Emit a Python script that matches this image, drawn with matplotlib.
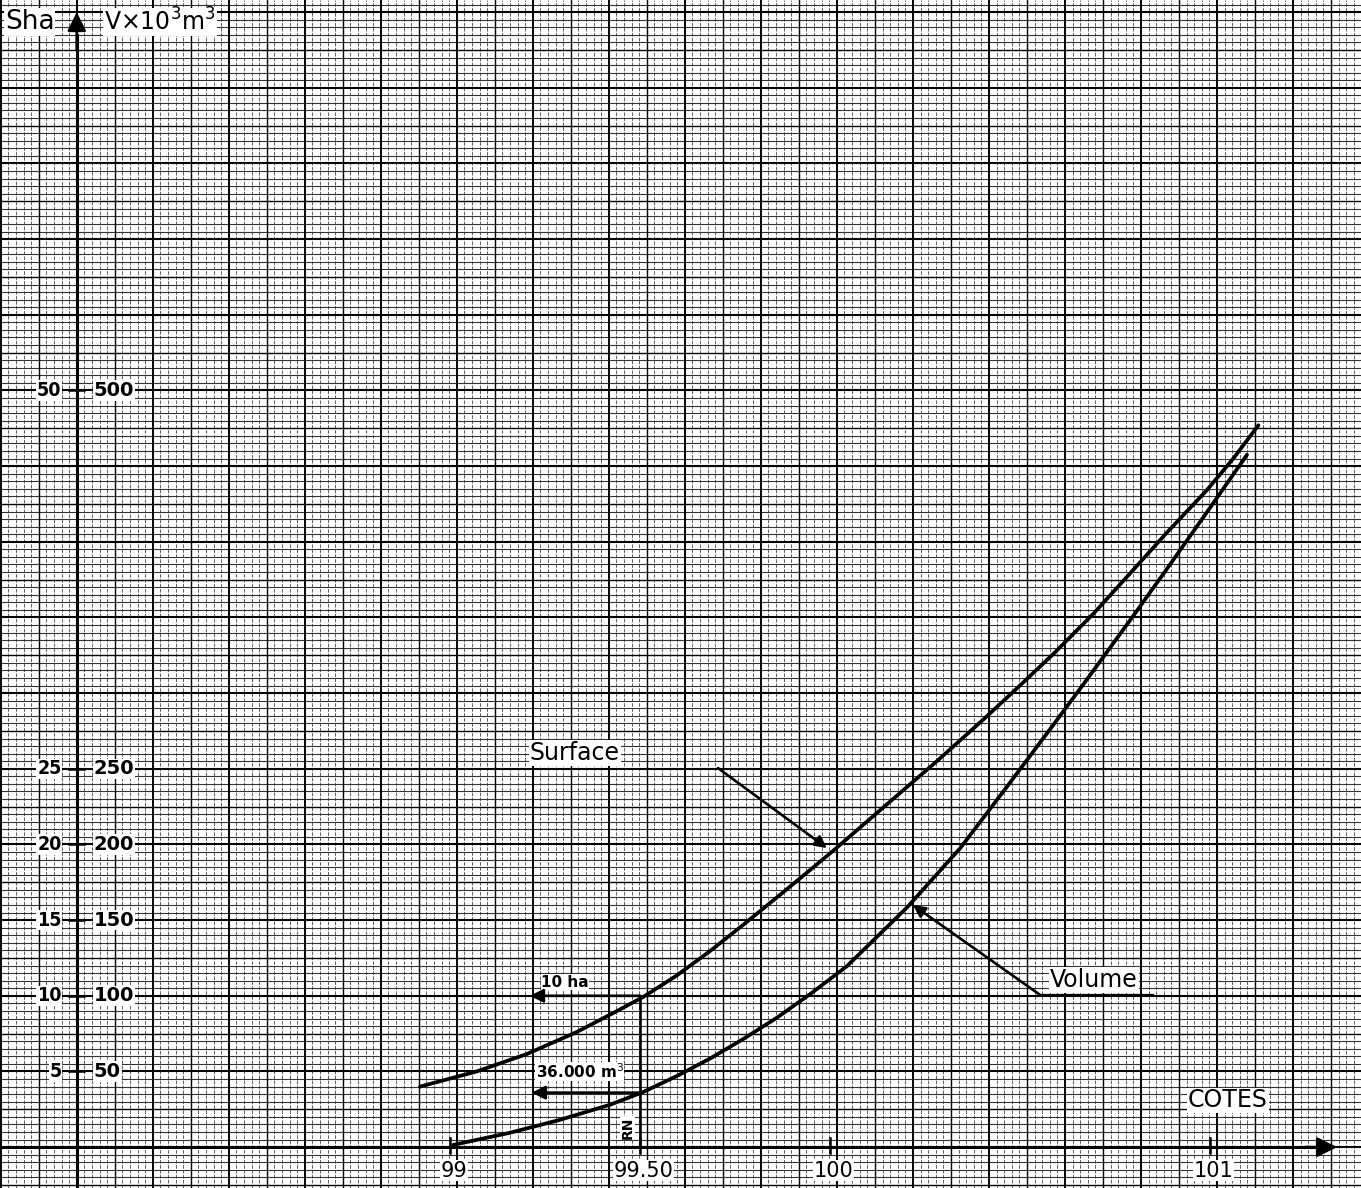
import numpy as np
import matplotlib
matplotlib.use("Agg")
import matplotlib.pyplot as plt

# ---- data ----
surface_cote = [98.921, 99.070, 99.202, 99.333, 99.421, 99.509, 99.597, 99.684, 99.772,
                99.860, 99.947, 100.009, 100.161, 100.281, 100.403, 100.491, 100.588,
                100.693, 100.789, 100.886, 100.991, 101.061, 101.127]
surface_ha = [4.0, 5.0, 6.15, 7.6, 8.75, 9.93, 11.35, 12.95, 14.7,
              16.5, 18.3, 19.6, 22.9, 25.5, 28.25, 30.3, 32.6,
              35.25, 37.9, 40.6, 43.4, 45.5, 47.7]

volume_cote = [99.009, 99.158, 99.289, 99.421, 99.509, 99.597, 99.684, 99.772, 99.860,
               99.947, 100.044, 100.203, 100.342, 100.465, 100.588, 100.684, 100.789,
               100.886, 100.982, 101.097]
volume_k_m3 = [1.5, 9.5, 18.0, 28.0, 36.5, 47.0, 58.5, 71.5, 85.5,
               101.0, 119.5, 158.5, 197.4, 238.0, 279.2, 311.8, 348.0,
               382.0, 416.1, 457.5]

x_ticks = [99, 99.5, 100, 101]
x_tick_labels = ["99", "99.50", "100", "101"]
y_ticks_ha = [5, 10, 15, 20, 25, 50]
y_tick_labels_ha = ["5", "10", "15", "20", "25", "50"]
y_tick_labels_v = ["50", "100", "150", "200", "250", "500"]

mark_cote = 99.5
mark_surface = 10
mark_volume = 36

XMIN, XMAX = 97.816, 101.397
YMIN, YMAX = -2.7, 75.8
Y_AXIS_X = 98.018

fig = plt.figure(figsize=(13.61, 11.88), dpi=100)
fig.patch.set_facecolor("white")
ax = fig.add_axes([0, 0, 1, 1])
ax.set_xlim(XMIN, XMAX)
ax.set_ylim(YMIN, YMAX)
ax.axis("off")
ax2 = ax.twinx()
ax2.set_ylim(YMIN * 10, YMAX * 10)
ax2.axis("off")

# ---- graph paper (aligned on the vertical axis) ----
k0 = int(np.floor((XMIN - Y_AXIS_X) / 0.02))
k1 = int(np.ceil((XMAX - Y_AXIS_X) / 0.02))
for k in range(k0, k1 + 1):
    x = Y_AXIS_X + k * 0.02
    if k % 10 == 0:
        ax.axvline(x, color="black", lw=1.4, zorder=1)
    elif k % 5 == 0:
        ax.axvline(x, color="black", lw=1.0, zorder=1)
    else:
        ax.axvline(x, color="#555555", lw=0.65, ls=(0, (4, 1.5)), zorder=0.5)
for j in range(int(np.ceil(YMIN / 0.5)), int(np.floor(YMAX / 0.5)) + 1):
    y = j * 0.5
    if j % 10 == 0:
        ax.axhline(y, color="black", lw=1.5, zorder=1)
    elif j % 5 == 0:
        ax.axhline(y, color="black", lw=1.0, zorder=1)
    else:
        ax.axhline(y, color="#333333", lw=0.8, zorder=0.5)

# ---- axes with arrows ----
ax.plot([XMIN, 101.30], [0, 0], color="black", lw=2.2, zorder=5)
ax.annotate("", xy=(101.334, 0), xytext=(101.25, 0),
            arrowprops=dict(arrowstyle="-|>", lw=2.0, color="black", mutation_scale=30,
                            shrinkA=0, shrinkB=0), zorder=5)
ax.plot([Y_AXIS_X, Y_AXIS_X], [YMIN, 73.5], color="black", lw=2.2, zorder=5)
ax.annotate("", xy=(Y_AXIS_X, 75.0), xytext=(Y_AXIS_X, 72.5),
            arrowprops=dict(arrowstyle="-|>", lw=2.0, color="black", mutation_scale=28,
                            shrinkA=0, shrinkB=0), zorder=5)

# y ticks and labels
for v, l1, l2 in zip(y_ticks_ha, y_tick_labels_ha, y_tick_labels_v):
    ax.plot([Y_AXIS_X - 0.02, Y_AXIS_X + 0.02], [v, v], color="black", lw=1.8, zorder=5)
    ax.text(Y_AXIS_X - 0.04, v, l1, ha="right", va="center", fontsize=14,
            fontweight="bold", fontstretch="condensed", zorder=6,
            bbox=dict(facecolor="white", edgecolor="none", pad=0.5))
    ax.text(Y_AXIS_X + 0.045, v, l2, ha="left", va="center", fontsize=14,
            fontweight="bold", zorder=6,
            bbox=dict(facecolor="white", edgecolor="none", pad=0.5))

# x ticks and labels
for v, l in zip(x_ticks, x_tick_labels):
    ax.plot([v, v], [-0.4, 0.6], color="black", lw=1.8, zorder=5)
    ax.text(v + 0.01, -1.55, l, ha="center", va="center", fontsize=15, zorder=6,
            bbox=dict(facecolor="white", edgecolor="none", pad=0.5))

# axis titles
ax.text(97.829, 74.35, "Sha", ha="left", va="center", fontsize=19, zorder=6,
        bbox=dict(facecolor="white", edgecolor="none", pad=0.5))
ax.text(98.09, 74.35, "V×10$^3$m$^3$", ha="left", va="center", fontsize=17, zorder=6,
        bbox=dict(facecolor="white", edgecolor="none", pad=0.5))
ax.text(101.047, 3.1, "COTES", ha="center", va="center", fontsize=17, zorder=6,
        bbox=dict(facecolor="white", edgecolor="none", pad=0.5))

# ---- curves ----
ax.plot(surface_cote, surface_ha, color="black", lw=2.7, zorder=8,
        solid_capstyle="round", solid_joinstyle="round")
ax2.plot(volume_cote, volume_k_m3, color="black", lw=2.7, zorder=8,
         solid_capstyle="round", solid_joinstyle="round")

# ---- labels with leaders ----
ax.text(99.21, 26.04, "Surface", ha="left", va="center", fontsize=17, zorder=6,
        bbox=dict(facecolor="white", edgecolor="none", pad=0.5))
ax.annotate("", xy=(99.992, 19.76), xytext=(99.705, 25.05),
            arrowprops=dict(arrowstyle="-|>", lw=1.9, color="black", mutation_scale=18,
                            shrinkA=0, shrinkB=0), zorder=7)

ax.text(100.579, 11.04, "Volume", ha="left", va="center", fontsize=17, zorder=6,
        bbox=dict(facecolor="white", edgecolor="none", pad=0.5))
ax.plot([100.553, 100.85], [10.05, 10.05], color="black", lw=1.6, zorder=7)
ax.annotate("", xy=(100.218, 16.0), xytext=(100.553, 10.05),
            arrowprops=dict(arrowstyle="-|>", lw=1.9, color="black", mutation_scale=18,
                            shrinkA=0, shrinkB=0), zorder=7)

# 99.50 reading
ax.plot([mark_cote, mark_cote], [0, mark_surface], color="black", lw=1.9, zorder=7)
ax.annotate("", xy=(99.210, mark_surface), xytext=(mark_cote, mark_surface),
            arrowprops=dict(arrowstyle="-|>", lw=1.9, color="black", mutation_scale=20,
                            shrinkA=0, shrinkB=0), zorder=7)
ax2.annotate("", xy=(99.215, mark_volume), xytext=(mark_cote, mark_volume),
             arrowprops=dict(arrowstyle="-|>", lw=1.9, color="black", mutation_scale=20,
                             shrinkA=0, shrinkB=0), zorder=7)
ax.text(99.24, 10.9, "10 ha", ha="left", va="center", fontsize=11, fontweight="bold", zorder=6,
        bbox=dict(facecolor="white", edgecolor="none", pad=0.3))
ax.text(99.225, 5.0, "36.000 m$^3$", ha="left", va="center", fontsize=11, fontweight="bold", zorder=6,
        bbox=dict(facecolor="white", edgecolor="none", pad=0.3))
ax.text(99.467, 1.3, "RN", ha="center", va="center", fontsize=10, fontweight="bold",
        rotation=90, zorder=6, bbox=dict(facecolor="white", edgecolor="none", pad=0.3))

fig.savefig("out.png", dpi=100, facecolor="white")
